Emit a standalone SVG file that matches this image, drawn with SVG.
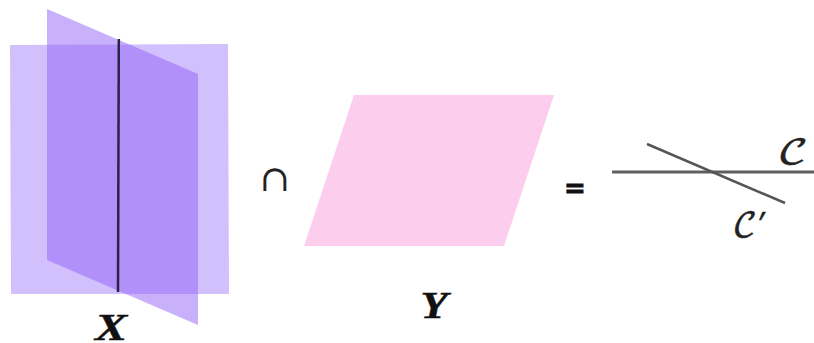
<svg xmlns="http://www.w3.org/2000/svg" width="814" height="343" viewBox="0 0 814 343">
<style>
.lab{font-family:"Liberation Serif",serif;font-weight:700;font-style:italic;font-size:37px;fill:#111;text-anchor:middle;stroke:#111;stroke-width:.5px}
.scr{font-family:"DejaVu Math TeX Gyre","DejaVu Sans","Noto Sans",serif;font-size:34px;fill:#222;stroke:#222;stroke-width:.5px;text-anchor:middle}
.cap{font-family:"DejaVu Serif",serif;fill:#222;text-anchor:middle}
.eq{font-family:"DejaVu Sans",sans-serif;fill:#111;stroke:#111;stroke-width:.8px;text-anchor:middle;font-weight:700}
</style>
<rect width="814" height="343" fill="#fff"/>
<g id="plane-x1"><polygon points="10,45 228,44 229,294 11,294" fill="#d2c0fd"/></g>
<g id="plane-x2"><polygon points="47,9 198,74 198,325 47,260" fill="#8f5ef7" fill-opacity=".49"/></g>
<g id="plane-y"><polygon points="354,95 554,95 504,246 304,246" fill="#fccdec"/></g>
<g id="connectors" fill="none" stroke-linecap="butt">
<line x1="118.800" y1="39" x2="118" y2="292" stroke="#2d2348" stroke-width="2.500"/>
<line x1="612" y1="172" x2="814" y2="172" stroke="#5f5f5f" stroke-width="3"/>
<line x1="647" y1="144" x2="785" y2="203" stroke="#555" stroke-width="2.500"/>
</g>
<g id="label-x"><text class="lab" transform="translate(111 340) scale(1.3 1)">X</text></g>
<g id="label-y"><text class="lab" transform="translate(434 318) scale(1.2 1)">Y</text></g>
<g id="op-cap"><text class="cap" x="274.500" y="191" font-size="36">∩</text></g>
<g id="op-eq"><text class="eq" x="575" y="197" font-size="26">=</text></g>
<g id="label-c"><text class="scr" transform="translate(793 164) scale(1.25 1)">𝒞</text></g>
<g id="label-c-prime"><text class="scr" x="750" y="237">𝒞′</text></g>
</svg>
